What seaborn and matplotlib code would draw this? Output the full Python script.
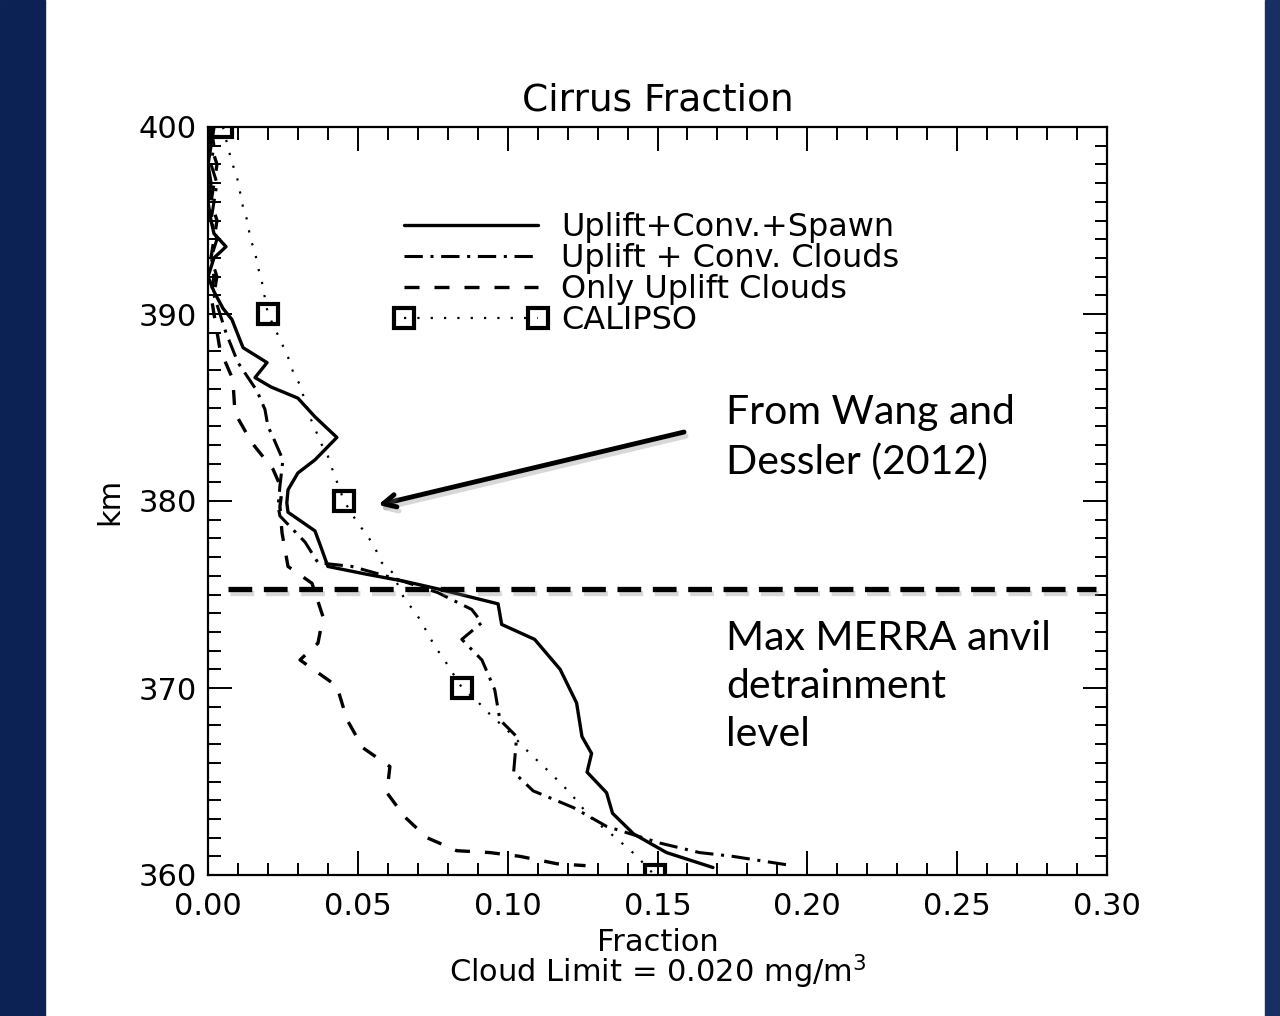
import numpy as np
import pandas as pd
import seaborn as sns
from matplotlib import pyplot as plt
from matplotlib import patheffects as pe
from matplotlib.lines import Line2D
from matplotlib.patches import Rectangle
from matplotlib.ticker import MultipleLocator

sns.set_style("ticks", {"xtick.direction": "in", "ytick.direction": "in"})
plt.rcParams['font.family'] = ['DejaVu Sans']
plt.rcParams.update({'text.color': 'black', 'axes.labelcolor': 'black',
                     'xtick.color': 'black', 'ytick.color': 'black'})

# Uplift + Conv. + Spawn (solid)
spawn_x = [0.000, 0.001, 0.000, 0.001, 0.000, 0.001, 0.002, 0.006, 0.002, 0.000, 0.002, 0.005,
           0.008, 0.0107, 0.0117, 0.0197, 0.0157, 0.021, 0.030, 0.0357, 0.043, 0.0357, 0.030,
           0.0267, 0.0263, 0.0267, 0.0357, 0.038, 0.040, 0.0524, 0.0657, 0.0767, 0.0968, 0.098,
           0.109, 0.1175, 0.123, 0.1248, 0.128, 0.1265, 0.133, 0.135, 0.142, 0.153, 0.1685]
spawn_km = [400, 399, 398, 397, 396, 395, 394.3, 393.6, 393.0, 392.0, 391.2, 390.3,
            389.7, 388.6, 388.2, 387.4, 386.6, 386.1, 385.5, 384.5, 383.4, 382.2, 381.5,
            380.6, 379.9, 379.4, 378.4, 377.4, 376.5, 376.1, 375.7, 375.3, 374.5, 373.4,
            372.6, 371.0, 369.2, 367.4, 366.5, 365.5, 364.4, 363.3, 362.2, 361.2, 360.4]

# Uplift + Conv. Clouds (dash-dot)
conv_x = [0.001, 0.002, 0.001, 0.003, 0.002, 0.001, 0.003, 0.001, 0.003, 0.002, 0.004, 0.006,
          0.010, 0.0163, 0.019, 0.020, 0.022, 0.025, 0.024, 0.0234, 0.024, 0.0324, 0.0367,
          0.048, 0.0614, 0.0767, 0.088, 0.0914, 0.0847, 0.0914, 0.0957, 0.0974, 0.103, 0.102,
          0.1085, 0.122, 0.133, 0.151, 0.164, 0.175, 0.195]
conv_km = [400, 399, 398, 397, 396, 395, 394, 393, 392, 391, 390, 389,
           387.4, 385.9, 384.9, 384.0, 383.3, 382.2, 380.8, 379.7, 379.2, 377.8, 376.7,
           376.5, 375.9, 375.1, 374.2, 373.5, 372.6, 371.5, 369.9, 368.3, 367.4, 365.5,
           364.5, 363.6, 362.6, 361.7, 361.2, 361.0, 360.5]

# Only Uplift Clouds (dashed)
uplift_x = [0.002, 0.001, 0.003, 0.002, 0.001, 0.003, 0.002, 0.001, 0.002, 0.001, 0.002, 0.004,
            0.0083, 0.009, 0.0147, 0.0217, 0.0247, 0.024, 0.0247, 0.0267, 0.0347, 0.0384,
            0.0367, 0.0307, 0.043, 0.0464, 0.0517, 0.0607, 0.0597, 0.0657, 0.073, 0.083,
            0.094, 0.104, 0.1165, 0.126]
uplift_km = [400, 399, 398, 397, 396, 395, 394, 393, 392, 391, 390, 388.1,
             386.5, 384.7, 383.1, 381.7, 380.6, 379.7, 378.3, 376.5, 375.6, 373.8,
             372.4, 371.5, 370.1, 368.3, 366.8, 365.8, 364.4, 363.1, 362.0, 361.3,
             361.2, 361.0, 360.6, 360.5]

# CALIPSO (dotted curve + squares)
calipso_curve_x = [0.005, 0.0067, 0.008, 0.0097, 0.0107, 0.0117, 0.0133, 0.014, 0.0157, 0.0167,
                   0.018, 0.020, 0.0227, 0.0247, 0.0267, 0.0284, 0.0307, 0.034, 0.038, 0.040,
                   0.0417, 0.0454, 0.050, 0.053, 0.0557, 0.058, 0.0614, 0.0657, 0.069, 0.0717,
                   0.074, 0.0767, 0.0797, 0.0848, 0.0898, 0.0934, 0.1008, 0.1074, 0.114,
                   0.1208, 0.1275, 0.136, 0.1425, 0.149]
calipso_curve_km = [400, 398.9, 398.1, 397.3, 396.5, 395.7, 394.9, 394.1, 393.3, 392.5,
                    391.7, 390, 389.1, 388.4, 387.7, 386.9, 386.2, 384.5, 383.0, 382.4,
                    381.6, 380, 378.8, 378.2, 377.5, 376.7, 376.2, 374.7, 374.1, 373.4,
                    372.7, 372.0, 371.3, 370, 369.3, 368.7, 367.6, 366.5, 365.5,
                    364.4, 363.1, 362.0, 361.1, 360]
calipso_x = [0.0047, 0.020, 0.0454, 0.0848, 0.149]
calipso_km = [400, 390, 380, 370, 360]

anvil_level = 375.3

fig = plt.figure(figsize=(12.8, 10.16), dpi=100)
fig.patch.set_facecolor('white')
fig.add_artist(Rectangle((0, 0), 45 / 1280, 1, transform=fig.transFigure, color='#0c2255', zorder=-5))
fig.add_artist(Rectangle((1265 / 1280, 0), 15 / 1280, 1, transform=fig.transFigure, color='#163063', zorder=-5))
ax = fig.add_axes([208 / 1280, 141 / 1016, 899 / 1280, 748 / 1016])

sns.lineplot(x=spawn_x, y=spawn_km, sort=False, estimator=None, color='black', lw=2.4,
             ax=ax, label='Uplift+Conv.+Spawn')
sns.lineplot(x=conv_x, y=conv_km, sort=False, estimator=None, color='black', lw=2.2,
             linestyle=(0, (6, 2.5, 1, 2.5)), ax=ax, label='Uplift + Conv. Clouds')
sns.lineplot(x=uplift_x, y=uplift_km, sort=False, estimator=None, color='black', lw=2.4,
             linestyle=(0, (4.5, 4.5)), ax=ax, label='Only Uplift Clouds')
sns.lineplot(x=calipso_curve_x, y=calipso_curve_km, sort=False, estimator=None, color='black',
             lw=1.6, linestyle=(0, (1, 5)), ax=ax, legend=False)
ax.plot(calipso_x, calipso_km, ls='none', marker='s', ms=14, mfc='none', mec='black', mew=3)

ax.set_xlim(0, 0.30)
ax.set_ylim(360, 400)
ax.xaxis.set_major_locator(MultipleLocator(0.05))
ax.xaxis.set_minor_locator(MultipleLocator(0.01))
ax.yaxis.set_major_locator(MultipleLocator(10))
ax.yaxis.set_minor_locator(MultipleLocator(1))
ax.xaxis.set_major_formatter(lambda v, p: f"{v:.2f}")
ax.tick_params(which='both', direction='in', top=True, right=True, width=1.4, color='black')
ax.tick_params(which='major', length=17, labelsize=22)
ax.tick_params(axis='x', which='major', pad=12)
ax.tick_params(axis='y', which='major', pad=8)
ax.tick_params(which='minor', length=9)
for s in ax.spines.values():
    s.set_linewidth(1.6)
    s.set_color('black')

ax.set_title('Cirrus Fraction', fontsize=27, pad=12)
ax.set_ylabel('km', fontsize=22, labelpad=10)
ax.set_xlabel('Fraction\nCloud Limit = 0.020 mg/m$^3$', fontsize=22, linespacing=0.85, labelpad=5)

h_lines = [l for l in ax.lines[:3]]
cal_handle = Line2D([], [], color='black', lw=1.6, linestyle=(0, (1, 5)), marker='s', ms=14,
                    mfc='none', mec='black', mew=3)
ax.legend(h_lines + [cal_handle],
          ['Uplift+Conv.+Spawn', 'Uplift + Conv. Clouds', 'Only Uplift Clouds', 'CALIPSO'],
          loc='upper left', bbox_to_anchor=(0.207, 0.886), frameon=False, fontsize=23,
          handlelength=4.8, handletextpad=0.42, labelspacing=0.0, borderpad=0,
          borderaxespad=0, numpoints=2)

shadow = [pe.SimpleLineShadow(offset=(1.5, -3), shadow_color='gray', alpha=0.3), pe.Normal()]
ax.axhline(anvil_level, xmin=0.022, xmax=0.988, color='black', lw=3.8,
           linestyle=(0, (4.5, 2.2)), path_effects=shadow)

note_font = dict(family='Lato', fontsize=29.5, color='black')
ax.text(0.5762, 0.585, 'From Wang and\nDessler (2012)', transform=ax.transAxes,
        va='center', ha='left', linespacing=1.38, **note_font)
ax.text(0.5762, 0.252, 'Max MERRA anvil\ndetrainment\nlevel', transform=ax.transAxes,
        va='center', ha='left', linespacing=1.38, **note_font)
ax.annotate('', xy=(0.1891, 0.4947), xytext=(0.5295, 0.5922), xycoords='axes fraction',
            arrowprops=dict(arrowstyle='->, head_length=0.9, head_width=0.45', lw=3.5,
                            color='black', shrinkA=0, shrinkB=0,
                            path_effects=[pe.SimpleLineShadow(offset=(1.5, -3), shadow_color='gray', alpha=0.3), pe.Normal()]))

plt.savefig('out.png', dpi=100)
